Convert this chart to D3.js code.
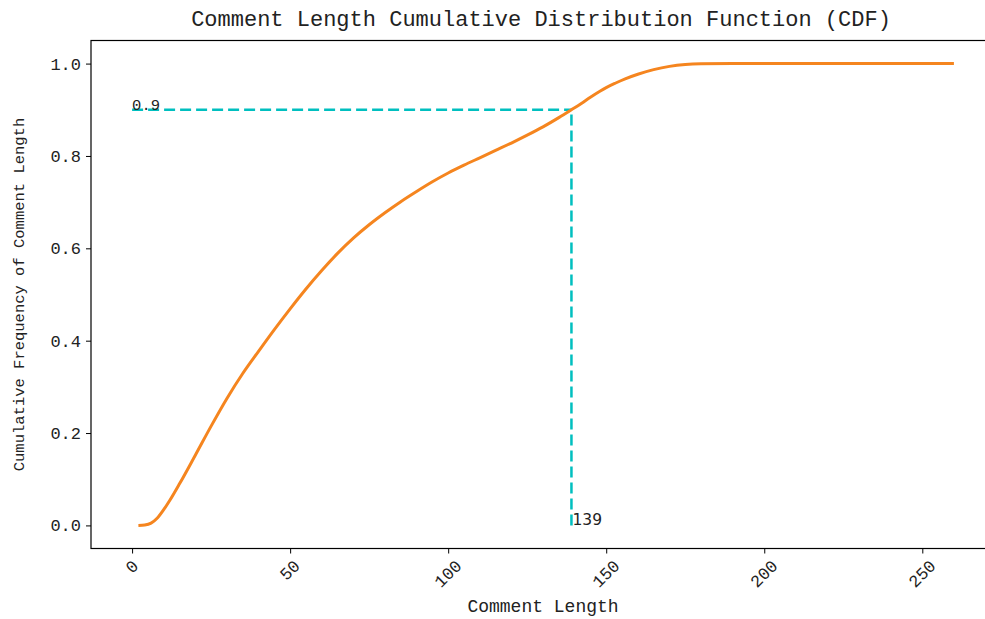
<!DOCTYPE html>
<html>
<head>
<meta charset="utf-8">
<script src="https://cdn.jsdelivr.net/npm/d3@7"></script>
<style>
  html, body { margin: 0; padding: 0; background: #fff; }
  svg { display: block; }
</style>
</head>
<body>
<svg id="chart" width="985" height="619"></svg>
<script>
// ---- data ----
const lengths = [2, 4, 6, 8, 10, 12, 15, 20, 25, 30, 35, 40, 45, 50, 55, 60, 65, 70, 75, 80, 85, 90, 95, 100, 105, 110, 115, 120, 125, 130, 135, 139, 142, 145, 148, 150, 153, 156, 160, 165, 170, 175, 180, 190, 200, 220, 240, 260];
const cdfValues = [0.0, 0.001, 0.005, 0.016, 0.034, 0.055, 0.09, 0.152, 0.215, 0.275, 0.329, 0.377, 0.424, 0.469, 0.512, 0.552, 0.589, 0.622, 0.651, 0.677, 0.701, 0.723, 0.744, 0.763, 0.780, 0.796, 0.812, 0.828, 0.845, 0.863, 0.883, 0.9, 0.913, 0.927, 0.940, 0.948, 0.958, 0.967, 0.977, 0.987, 0.994, 0.998, 0.9995, 1.0, 1.0, 1.0, 1.0, 1.0];
const xTicks = [0, 50, 100, 150, 200, 250];
const yTicks = [0.0, 0.2, 0.4, 0.6, 0.8, 1.0];
const markLength = 139;
const markLevel = 0.9;
const titleText = "Comment Length Cumulative Distribution Function (CDF)";
const xLabelText = "Comment Length";
const yLabelText = "Cumulative Frequency of Comment Length";

// ---- layout ----
const svg = d3.select("#chart");
const pL = 91, pR = 995, pT = 40.5, pB = 548.5;
const monoFont = "'Liberation Mono', 'DejaVu Sans Mono', monospace";

const x = d3.scaleLinear().domain([-13, 273]).range([pL, pR]);
const y = d3.scaleLinear().domain([-0.05, 1.05]).range([pB, pT]);

// dashed guide lines
svg.append("line")
  .attr("x1", x(0)).attr("x2", x(markLength))
  .attr("y1", y(markLevel)).attr("y2", y(markLevel))
  .attr("stroke", "#00bfbf").attr("stroke-width", 2.5)
  .attr("stroke-dasharray", "11,5");
svg.append("line")
  .attr("x1", x(markLength)).attr("x2", x(markLength))
  .attr("y1", y(0)).attr("y2", y(markLevel))
  .attr("stroke", "#00bfbf").attr("stroke-width", 2.5)
  .attr("stroke-dasharray", "11,5");

// CDF curve
const pts = lengths.map((d, i) => [d, cdfValues[i]]);
svg.append("path")
  .datum(pts)
  .attr("fill", "none")
  .attr("stroke", "#f5851f")
  .attr("stroke-width", 3)
  .attr("stroke-linejoin", "round")
  .attr("d", d3.line().x(d => x(d[0])).y(d => y(d[1])).curve(d3.curveMonotoneX));

// annotation texts
svg.append("text")
  .attr("x", x(0)).attr("y", y(markLevel))
  .attr("font-family", monoFont).attr("font-size", 15.5)
  .attr("fill", "#222")
  .text(String(markLevel));
svg.append("text")
  .attr("x", x(markLength) + 1).attr("y", y(0))
  .attr("font-family", "'DejaVu Sans', sans-serif").attr("font-size", 15.5)
  .attr("fill", "#222")
  .text(String(markLength));

// spines (axes frame)
svg.append("rect")
  .attr("x", pL).attr("y", pT)
  .attr("width", pR - pL).attr("height", pB - pT)
  .attr("fill", "none").attr("stroke", "#000").attr("stroke-width", 1.2);

// y axis
const yAxis = svg.append("g")
  .attr("transform", `translate(${pL},0)`)
  .call(d3.axisLeft(y).tickValues(yTicks).tickFormat(d3.format(".1f")).tickSize(5).tickPadding(5));
yAxis.select(".domain").remove();
yAxis.selectAll("text").attr("font-family", monoFont).attr("font-size", 17).attr("fill", "#222");
yAxis.selectAll("line").attr("stroke", "#000").attr("stroke-width", 1);

// x axis
const xAxis = svg.append("g")
  .attr("transform", `translate(0,${pB})`)
  .call(d3.axisBottom(x).tickValues(xTicks).tickFormat(d3.format("d")).tickSize(5));
xAxis.select(".domain").remove();
xAxis.selectAll("line").attr("stroke", "#000").attr("stroke-width", 1);
xAxis.selectAll("text")
  .attr("font-family", monoFont).attr("font-size", 17).attr("fill", "#222")
  .attr("text-anchor", "middle")
  .attr("dy", null)
  .attr("y", 0)
  .each(function() {
    const t = d3.select(this);
    const bb = this.getBBox();
    const w = bb.width, h = 12;
    const half = (w + h) / Math.SQRT2 / 2;
    const cy = 11 + half;
    t.attr("dominant-baseline", "central")
     .attr("transform", `translate(0,${cy}) rotate(-45)`);
  });

// title and axis labels
svg.append("text")
  .attr("x", (pL + pR) / 2 - 2).attr("y", 26)
  .attr("text-anchor", "middle")
  .attr("font-family", monoFont).attr("font-size", 22).attr("fill", "#222")
  .text(titleText);
svg.append("text")
  .attr("x", (pL + pR) / 2).attr("y", 612)
  .attr("text-anchor", "middle")
  .attr("font-family", monoFont).attr("font-size", 18).attr("fill", "#222")
  .text(xLabelText);
svg.append("text")
  .attr("transform", `translate(24,${(pT + pB) / 2}) rotate(-90)`)
  .attr("text-anchor", "middle")
  .attr("font-family", monoFont).attr("font-size", 15.5).attr("fill", "#222")
  .text(yLabelText);
</script>
</body>
</html>
